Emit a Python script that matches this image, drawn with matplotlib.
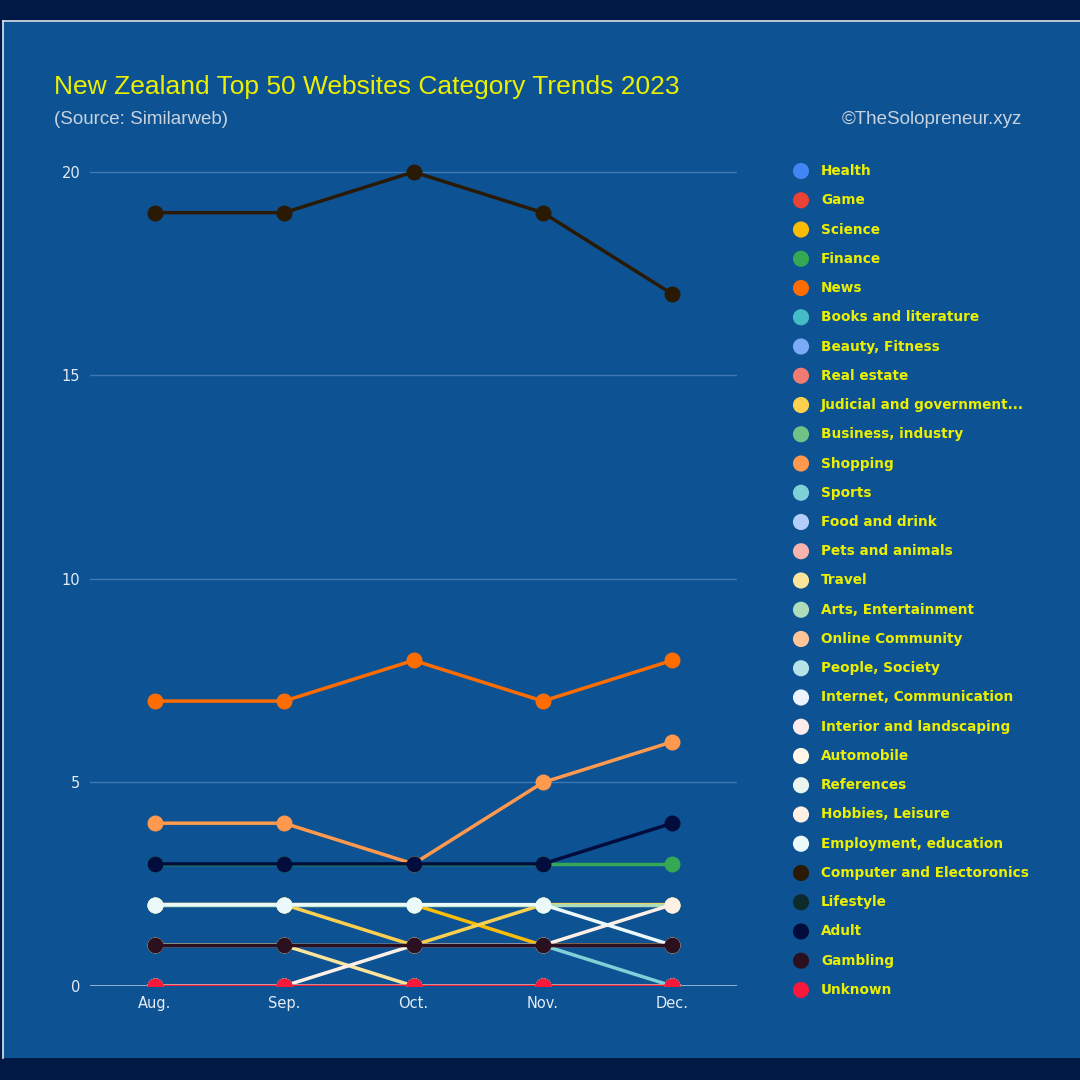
import matplotlib.pyplot as plt
from matplotlib.lines import Line2D
from matplotlib.patches import Rectangle

months = ["Aug.", "Sep.", "Oct.", "Nov.", "Dec."]

categories = [
    "Health", "Game", "Science", "Finance", "News", "Books and literature",
    "Beauty, Fitness", "Real estate", "Judicial and government...",
    "Business, industry", "Shopping", "Sports", "Food and drink",
    "Pets and animals", "Travel", "Arts, Entertainment", "Online Community",
    "People, Society", "Internet, Communication", "Interior and landscaping",
    "Automobile", "References", "Hobbies, Leisure", "Employment, education",
    "Computer and Electoronics", "Lifestyle", "Adult", "Gambling", "Unknown",
]

colors = [
    "#4285f4", "#ea4335", "#fbbc04", "#34a853", "#ff6d01", "#46bdc6",
    "#7baaf7", "#f07b72", "#fcd04f", "#71c287", "#ff994d", "#7ed1d7",
    "#b3cefb", "#f7b4ae", "#fde49b", "#aedcba", "#ffc599", "#b5e3e8",
    "#ecf3fe", "#fdeceb", "#fff8e6", "#eaf6ed", "#fff0e6", "#ecf9fa",
    "#2a1a05", "#0d2b2b", "#020d3d", "#2b1020", "#f8183c",
]

health = [0, 0, 0, 0, 0]
game = [0, 0, 0, 0, 0]
science = [2, 2, 2, 1, 1]
finance = [3, 3, 3, 3, 3]
news = [7, 7, 8, 7, 8]
books = [0, 0, 0, 0, 0]
beauty = [0, 0, 0, 0, 0]
real_estate = [1, 1, 1, 1, 1]
judicial = [2, 2, 1, 2, 2]
business = [0, 0, 0, 0, 0]
shopping = [4, 4, 3, 5, 6]
sports = [1, 1, 1, 1, 0]
food = [0, 0, 0, 0, 0]
pets = [0, 0, 0, 0, 0]
travel = [1, 1, 0, 0, 0]
arts = [2, 2, 2, 2, 2]
online = [0, 0, 0, 0, 0]
people = [0, 0, 0, 0, 0]
internet = [0, 0, 0, 0, 0]
interior = [0, 0, 0, 0, 0]
automobile = [0, 0, 0, 0, 0]
references = [0, 0, 0, 0, 0]
hobbies = [0, 0, 1, 1, 2]
employment = [2, 2, 2, 2, 1]
computer = [19, 19, 20, 19, 17]
lifestyle = [0, 0, 0, 0, 0]
adult = [3, 3, 3, 3, 4]
gambling = [1, 1, 1, 1, 1]
unknown = [0, 0, 0, 0, 0]

series = [
    health, game, science, finance, news, books, beauty, real_estate,
    judicial, business, shopping, sports, food, pets, travel, arts, online,
    people, internet, interior, automobile, references, hobbies, employment,
    computer, lifestyle, adult, gambling, unknown,
]

W = H = 1080
fig = plt.figure(figsize=(10.8, 10.8), dpi=100, facecolor="#011a45")

# blue panel with thin white edge on top and left
fig.patches.append(Rectangle((3 / W, 22 / H), 1 - 3 / W, (1058 - 22) / H,
                             transform=fig.transFigure, facecolor="#0d5293",
                             edgecolor="none", zorder=-2))
fig.lines.append(Line2D([3 / W, 1], [1 - 21 / H, 1 - 21 / H], transform=fig.transFigure,
                        color="#dfe8f2", lw=1.2, zorder=-1))
fig.lines.append(Line2D([3 / W, 3 / W], [22 / H, 1 - 21 / H], transform=fig.transFigure,
                        color="#dfe8f2", lw=1.2, zorder=-1))

ax = fig.add_axes([90 / W, 94 / H, 647 / W, (986 - 151.6) / H])
ax.set_facecolor("none")
x = list(range(len(months)))
for vals, c in zip(series, colors):
    ax.plot(x, vals, color=c, lw=2.5, marker="o", markersize=11.5,
            markeredgewidth=0, solid_capstyle="round", zorder=3)

ax.set_xlim(-0.5, 4.5)
ax.set_ylim(0, 20.5)
ax.set_yticks([0, 5, 10, 15, 20])
ax.set_xticks(x)
ax.set_xticklabels(months)
for s in ax.spines.values():
    s.set_visible(False)
ax.tick_params(length=0, colors="#e4ebf3", labelsize=10.5)
ax.tick_params(axis="y", pad=7)
ax.tick_params(axis="x", pad=7)
ax.grid(axis="y", color="#3d78b3", lw=1)
ax.set_axisbelow(True)
ax.axhline(0, color="#a9c2de", lw=1.2, zorder=1)

fig.text(54 / W, 1 - 87 / H, "New Zealand Top 50 Websites Category Trends 2023",
         color="#ecf000", fontsize=19, family="Liberation Sans", va="center")
fig.text(54 / W, 1 - 119 / H, "(Source: Similarweb)", color="#c9d3df",
         fontsize=13.5, family="Liberation Sans", va="center")
fig.text(1022 / W, 1 - 119 / H, "\u00a9TheSolopreneur.xyz", color="#c9d3df",
         fontsize=13.5, family="Liberation Sans", va="center", ha="right")

# legend
n = len(categories)
top, bottom = 171 - 14.6, 990 + 14.6
lax = fig.add_axes([790 / W, 1 - bottom / H, 290 / W, (bottom - top) / H])
lax.set_xlim(0, 290)
lax.set_ylim(n - 0.5, -0.5)
lax.axis("off")
for i, (name, c) in enumerate(zip(categories, colors)):
    lax.scatter(11, i, s=135, color=c, edgecolors="none")
    lax.text(31, i, name, color="#ecf000", fontsize=9.8, fontweight="bold",
             family="DejaVu Sans", va="center")

fig.savefig("out.png", dpi=100, facecolor=fig.get_facecolor())
